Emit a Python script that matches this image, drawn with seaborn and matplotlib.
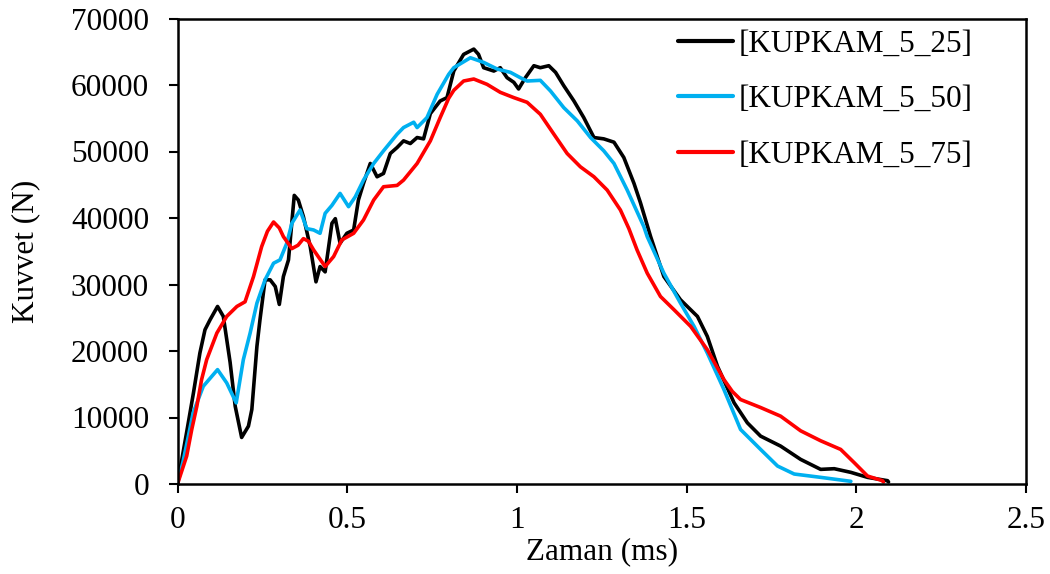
import numpy as np
import pandas as pd
import matplotlib
matplotlib.use("Agg")
import matplotlib.pyplot as plt
import seaborn as sns

series_names = ["[KUPKAM_5_25]", "[KUPKAM_5_50]", "[KUPKAM_5_75]"]
colors = ["#000000", "#00B0F0", "#FF0000"]

x_25 = [0, 0.027, 0.047, 0.066, 0.081, 0.096, 0.118, 0.135, 0.155, 0.17, 0.189, 0.209, 0.219,
        0.234, 0.243, 0.258, 0.273, 0.288, 0.3, 0.312, 0.327, 0.344, 0.356, 0.371, 0.391, 0.408,
        0.42, 0.435, 0.455, 0.465, 0.479, 0.499, 0.519, 0.533, 0.548, 0.568, 0.588, 0.607, 0.627,
        0.647, 0.666, 0.686, 0.706, 0.725, 0.745, 0.774, 0.794, 0.814, 0.843, 0.873, 0.887, 0.902,
        0.932, 0.951, 0.971, 0.991, 1.005, 1.025, 1.05, 1.069, 1.094, 1.114, 1.138, 1.168, 1.197,
        1.227, 1.256, 1.286, 1.315, 1.345, 1.364, 1.394, 1.433, 1.482, 1.532, 1.561, 1.591, 1.64,
        1.679, 1.718, 1.777, 1.836, 1.895, 1.935, 1.984, 2.033, 2.092, 2.095]
y_25 = [0, 7800, 13700, 19700, 23200, 24700, 26700, 25200, 18300, 11700, 7000, 8700, 11200,
        20700, 24700, 30700, 30700, 29700, 27000, 31200, 33700, 43400, 42700, 40200, 35700, 30400,
        32700, 31900, 39200, 39900, 36200, 37700, 38200, 42700, 45200, 48200, 46200, 46700, 49700,
        50600, 51600, 51200, 52100, 51900, 55700, 57600, 58100, 62100, 64600, 65400, 64600, 62600,
        62100, 62600, 61100, 60400, 59400, 61100, 62900, 62600, 62900, 61900, 59900, 57600, 55100,
        52100, 51900, 51400, 49100, 45200, 42300, 37200, 31200, 27700, 25200, 22200, 17700, 12200,
        9200, 7200, 5700, 3700, 2200, 2300, 1750, 1000, 500, 300]

x_50 = [0, 0.016, 0.032, 0.046, 0.076, 0.118, 0.145, 0.173, 0.194, 0.214, 0.234, 0.258, 0.283,
        0.302, 0.322, 0.337, 0.361, 0.381, 0.401, 0.42, 0.435, 0.455, 0.479, 0.504, 0.524, 0.548,
        0.578, 0.607, 0.647, 0.666, 0.696, 0.706, 0.735, 0.765, 0.799, 0.814, 0.863, 0.902, 0.942,
        0.981, 1.01, 1.03, 1.069, 1.099, 1.138, 1.178, 1.217, 1.256, 1.286, 1.325, 1.374, 1.384,
        1.433, 1.482, 1.522, 1.561, 1.61, 1.659, 1.718, 1.768, 1.817, 1.895, 1.984]
y_50 = [0, 3300, 7200, 10700, 14700, 17200, 15200, 12200, 18700, 22700, 27200, 30700, 33200,
        33700, 36200, 39200, 41200, 38400, 38200, 37700, 40700, 41900, 43700, 41700, 43200, 45700,
        48200, 50100, 52600, 53600, 54400, 53600, 55100, 58600, 61600, 62600, 64100, 63400, 62400,
        61900, 61100, 60600, 60700, 59100, 56600, 54600, 52100, 50100, 48200, 44200, 38700, 37200,
        31700, 27200, 23700, 19700, 14200, 8200, 5200, 2700, 1500, 1000, 400]

x_75 = [0, 0.027, 0.042, 0.057, 0.071, 0.086, 0.116, 0.145, 0.175, 0.199, 0.224, 0.248, 0.265,
        0.283, 0.3, 0.312, 0.337, 0.355, 0.371, 0.386, 0.401, 0.42, 0.435, 0.46, 0.484, 0.519,
        0.548, 0.578, 0.607, 0.647, 0.666, 0.706, 0.745, 0.774, 0.799, 0.814, 0.843, 0.873,
        0.912, 0.951, 0.991, 1.03, 1.069, 1.109, 1.148, 1.187, 1.227, 1.266, 1.305, 1.33, 1.354,
        1.384, 1.423, 1.463, 1.512, 1.561, 1.61, 1.635, 1.659, 1.718, 1.777, 1.836, 1.895, 1.954,
        1.994, 2.033, 2.077, 2.08]
y_75 = [0, 4200, 8200, 11700, 15700, 18700, 22700, 25200, 26700, 27400, 31200, 35700, 38000,
        39400, 38500, 37200, 35400, 35900, 36900, 36500, 35200, 33800, 32700, 34200, 36700, 37700,
        39700, 42700, 44700, 44900, 45700, 48200, 51600, 55100, 58000, 59200, 60600, 60900,
        60100, 58900, 58100, 57400, 55600, 52600, 49700, 47700, 46200, 44200, 41200, 38400, 35200,
        31700, 28200, 26200, 23700, 20200, 15700, 13900, 12700, 11500, 10200, 8000, 6500, 5200,
        3200, 1200, 500, 300]

x_ticks = [0, 0.5, 1, 1.5, 2, 2.5]
x_tick_labels = ["0", "0.5", "1", "1.5", "2", "2.5"]
y_ticks = [0, 10000, 20000, 30000, 40000, 50000, 60000, 70000]
y_tick_labels = ["0", "10000", "20000", "30000", "40000", "50000", "60000", "70000"]

frames = []
for name, xs, ys in zip(series_names, [x_25, x_50, x_75], [y_25, y_50, y_75]):
    frames.append(pd.DataFrame({"Zaman": xs, "Kuvvet": ys, "Seri": name}))
df = pd.concat(frames, ignore_index=True)

sns.set_style("ticks")
plt.rcParams["font.family"] = ["Liberation Serif", "DejaVu Serif"]
plt.rcParams["text.color"] = "black"
plt.rcParams["axes.labelcolor"] = "black"

FS = 22.5
fig = plt.figure(figsize=(10.5, 5.74), dpi=100)
W, H = 1050, 574
left, right, top, bottom = 177.5, 1026, 18.5, 484
ax = fig.add_axes([left / W, 1 - bottom / H, (right - left) / W, (bottom - top) / H])

sns.lineplot(data=df, x="Zaman", y="Kuvvet", hue="Seri", palette=dict(zip(series_names, colors)),
             linewidth=2.6, sort=False, estimator=None, ax=ax, legend=True)
for line in ax.get_lines():
    line.set_solid_joinstyle("round")

ax.set_xlim(0, 2.5)
ax.set_ylim(0, 70000)
ax.set_xticks(x_ticks)
ax.set_xticklabels(x_tick_labels)
ax.set_yticks(y_ticks)
ax.set_yticklabels(y_tick_labels)
ax.tick_params(axis="both", direction="out", length=6.5, width=1.5, color="black",
               labelsize=FS, labelcolor="black")
ax.tick_params(axis="x", pad=9)
ax.tick_params(axis="y", pad=14)
for s in ax.spines.values():
    s.set_visible(True)
    s.set_linewidth(1.8)
    s.set_color("black")
ax.set_xlabel("Zaman (ms)", fontsize=FS, labelpad=2, color="black")
ax.set_ylabel("Kuvvet (N)", fontsize=FS, labelpad=22, color="black")

handles, labels = ax.get_legend_handles_labels()
leg = ax.legend(handles, labels, loc="upper left", bbox_to_anchor=(678 / W, 1 - 30 / H),
                bbox_transform=fig.transFigure, frameon=False, fontsize=FS,
                handlelength=1.75, handletextpad=0.2, labelspacing=0.84, borderpad=0,
                borderaxespad=0, labelcolor="black")
for line in leg.get_lines():
    line.set_linewidth(3)

fig.savefig("out.png", dpi=100)
